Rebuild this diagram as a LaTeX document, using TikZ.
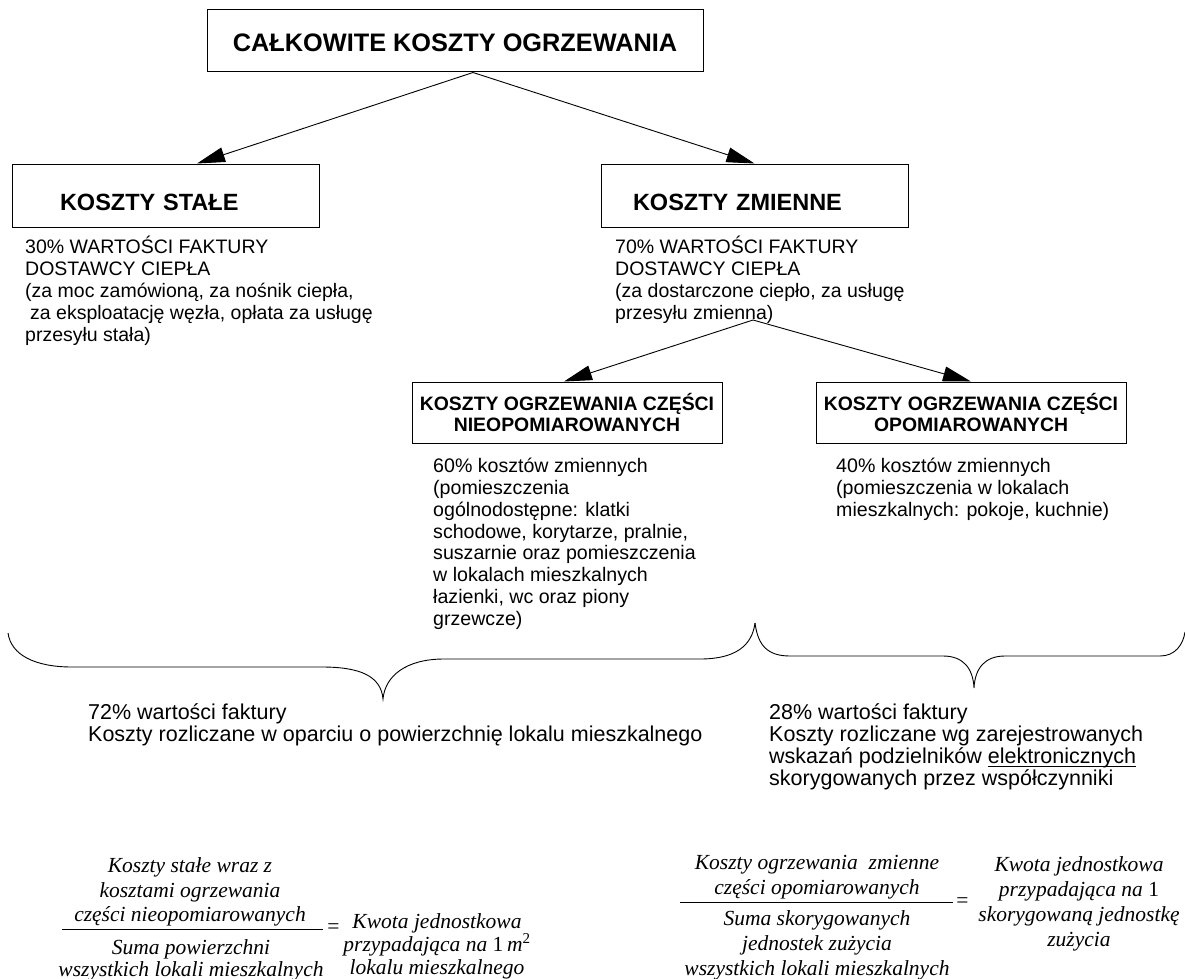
\documentclass[tikz,border=0pt]{standalone}
\usepackage{fontspec}
\setmainfont{Liberation Sans}
\newfontfamily\frmfont{Liberation Serif}
\usetikzlibrary{arrows.meta,calc}
\newcommand\myul[1]{\setbox0\hbox{#1}\rlap{\rule[-3.5pt]{\wd0}{1.4pt}}\box0}
\begin{document}
\begin{tikzpicture}[x=1pt,y=-1pt,
  box/.style={draw, line width=1pt, inner sep=0pt},
  conn/.style={line width=0.9pt, -{Triangle[length=28pt,width=15pt]}},
  brace/.style={line width=0.9pt},
  body/.style={anchor=north west, inner sep=0pt, align=left, font=\fontsize{19.5}{22}\selectfont},
  sub/.style={anchor=north west, inner sep=0pt, align=left, font=\fontsize{19.6}{21.9}\selectfont},
  big/.style={anchor=north west, inner sep=0pt, align=left, font=\fontsize{21.5}{22.2}\selectfont},
  frm/.style={anchor=north, inner sep=0pt, align=center, font=\frmfont\itshape\fontsize{21.5}{24.5}\selectfont},
  frmr/.style={anchor=north, inner sep=0pt, align=center, font=\frmfont\itshape\fontsize{21.5}{25}\selectfont},
  eq/.style={inner sep=0pt, font=\frmfont\fontsize{21.5}{24}\selectfont}]
\useasboundingbox (0,0) rectangle (1185,979);

% boxes
\node[box, minimum width=496pt, minimum height=62pt, text height=21pt, text depth=0pt,
  font=\bfseries\fontsize{25.3}{28}\selectfont] (title) at (455,41) {CAŁKOWITE KOSZTY OGRZEWANIA};
\node[box, minimum width=307pt, minimum height=63pt, text width=211pt, align=left,
  text height=30pt, text depth=0pt, font=\bfseries\fontsize{23.5}{26}\selectfont] (stale) at (165.5,195.5) {KOSZTY STAŁE};
\node[box, minimum width=307pt, minimum height=63pt, text width=243pt, align=left,
  text height=30pt, text depth=0pt, font=\bfseries\fontsize{23.5}{26}\selectfont] (zmienne) at (754.5,195.5) {KOSZTY ZMIENNE};
\node[box, minimum width=310pt, minimum height=61pt, align=center,
  font=\bfseries\fontsize{19.4}{21}\selectfont] (nieop) at (567,412.5) {KOSZTY OGRZEWANIA CZĘŚCI\\NIEOPOMIAROWANYCH};
\node[box, minimum width=310pt, minimum height=61pt, align=center,
  font=\bfseries\fontsize{19.4}{21}\selectfont] (op) at (971,412.5) {KOSZTY OGRZEWANIA CZĘŚCI\\OPOMIAROWANYCH};

% body texts
\node[body] (staletxt) at (25,233.5) {\rule{0pt}{19.5pt}30\% WARTOŚCI FAKTURY\\DOSTAWCY CIEPŁA\\(za moc zamówioną, za nośnik ciepła,\\\hspace*{5pt}za eksploatację węzła, opłata za usługę\\przesyłu stała)};
\node[body] (zmiennetxt) at (615,233.5) {\rule{0pt}{19.5pt}70\% WARTOŚCI FAKTURY\\DOSTAWCY CIEPŁA\\(za dostarczone ciepło, za usługę\\przesyłu zmienna)};
\node[sub] (nieoptxt) at (433,452.5) {\rule{0pt}{19.6pt}60\% kosztów zmiennych\\(pomieszczenia\\ogólnodostępne: klatki\\schodowe, korytarze, pralnie,\\suszarnie oraz pomieszczenia\\w lokalach mieszkalnych\\łazienki, wc oraz piony\\grzewcze)};
\node[sub] (optxt) at (836,452.5) {\rule{0pt}{19.6pt}40\% kosztów zmiennych\\(pomieszczenia w lokalach\\mieszkalnych: pokoje, kuchnie)};

% connectors
\coordinate (ta) at ($(title.south)+(18,0)$);
\draw[conn] (ta) -- ($(stale.north)+(31.5,0)$);
\draw[conn] (ta) -- (zmienne.north);
\coordinate (za) at (753,320);
\draw[conn] (za) -- ($(nieop.north)+(-3,0)$);
\draw[conn] (za) -- (op.north);

% braces
\draw[brace] (8,633) .. controls (11,655) and (35,667) .. (72,667) -- (322,667)
  .. controls (360,667) and (381,676) .. (383,699)
  .. controls (385,676) and (406,659) .. (444,659) -- (700,659)
  .. controls (735,659) and (752,646) .. (755,623);
\draw[brace] (755,623) .. controls (758,646) and (768,656) .. (790,656) -- (943,656)
  .. controls (963,656) and (973,668) .. (974,688)
  .. controls (975,668) and (985,656) .. (1005,656) -- (1160,656)
  .. controls (1175,656) and (1183,645) .. (1185,632);

% bottom texts
\node[big] (lefttxt) at (88,697.5) {\rule{0pt}{21.5pt}72\% wartości faktury\\Koszty rozliczane w oparciu o powierzchnię lokalu mieszkalnego};
\node[big] (righttxt) at (769,697.5) {\rule{0pt}{21.5pt}28\% wartości faktury\\Koszty rozliczane wg zarejestrowanych\\wskazań podzielników \myul{elektronicznych}\\skorygowanych przez współczynniki};

% left formula
\node[frm] (lnum) at (190,851) {\rule{0pt}{21.5pt}Koszty stałe wraz z\\kosztami ogrzewania\\części nieopomiarowanych};
\draw[line width=0.9pt] (62,929) -- (323,929);
\node[eq] (leq) at (333.5,929) {=};
\node[frm, font=\frmfont\itshape\fontsize{21.5}{22}\selectfont] (lden) at (191,932.5) {\rule{0pt}{21.5pt}Suma powierzchni\\wszystkich lokali mieszkalnych};
\node[frm, font=\frmfont\itshape\fontsize{21.5}{23}\selectfont] (lres) at (437,906.5) {\rule{0pt}{21.5pt}Kwota jednostkowa\\przypadająca na \textup{1}\,m\textsuperscript{\textup{2}}\\lokalu mieszkalnego};

% right formula
\node[frmr] (rnum) at (817,847.5) {\rule{0pt}{21.5pt}Koszty ogrzewania\ \ zmienne\\części opomiarowanych};
\draw[line width=0.9pt] (680,902) -- (953,902);
\node[eq] (req) at (962.5,903) {=};
\node[frmr] (rden) at (817,903.5) {\rule{0pt}{21.5pt}Suma skorygowanych\\jednostek zużycia\\wszystkich lokali mieszkalnych};
\node[frmr] (rres) at (1079,849.5) {\rule{0pt}{21.5pt}Kwota jednostkowa\\przypadająca na \textup{1}\\skorygowaną jednostkę\\zużycia};
\end{tikzpicture}
\end{document}
